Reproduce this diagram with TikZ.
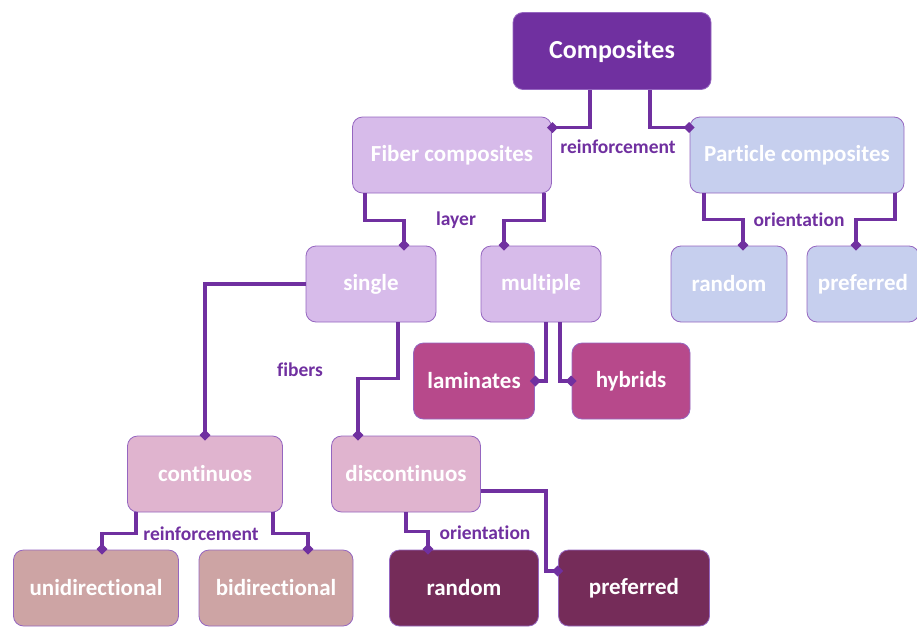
\documentclass[tikz,border=0pt]{standalone}
\usepackage{fontspec}
\setmainfont{Carlito}[Ligatures=NoCommon]
\usetikzlibrary{arrows.meta}
\usepackage{xcolor}
\definecolor{deeppurple}{HTML}{7030A0}
\definecolor{lilac}{HTML}{D7BBEA}
\definecolor{periwinkle}{HTML}{C6CFEE}
\definecolor{magentabox}{HTML}{B7498B}
\definecolor{pinkbox}{HTML}{E0B4CF}
\definecolor{rosebox}{HTML}{CDA4A4}
\definecolor{plumbox}{HTML}{752C59}
\definecolor{edgeline}{HTML}{9566C0}

\begin{document}
\begin{tikzpicture}[x=1pt,y=-1pt,
  box/.style={draw=edgeline,line width=0.8pt,rounded corners=10pt,text=white,inner sep=0pt,
    font=\fontsize{23}{27}\selectfont\bfseries,minimum height=76pt},
  link/.style={draw=deeppurple,line width=3.4pt,-{Diamond[length=11pt,width=11pt]},shorten >=-5pt},
  lbl/.style={text=deeppurple,font=\fontsize{19.5}{23}\selectfont\bfseries,inner sep=0pt}]
\useasboundingbox (0,0) rectangle (917,626);
% boxes
\node[box,fill=deeppurple,minimum width=198pt,minimum height=77pt,font=\fontsize{26}{30}\selectfont\bfseries] (comp) at (612,51) {Composites};
\node[box,fill=lilac,minimum width=199pt] (fiber) at (452,155) {Fiber composites};
\node[box,fill=periwinkle,minimum width=214pt] (particle) at (797,155) {Particle composites};
\node[box,fill=lilac,minimum width=130pt] (single) at (371,284) {single};
\node[box,fill=lilac,minimum width=120pt] (multiple) at (541,284) {multiple};
\node[box,fill=periwinkle,minimum width=116pt] (prand) at (729,284) {random};
\node[box,fill=periwinkle,minimum width=112pt] (ppref) at (863,284) {preferred};
\node[box,fill=magentabox,minimum width=121pt] (lam) at (474,381) {laminates};
\node[box,fill=magentabox,minimum width=118pt] (hyb) at (631,381) {hybrids};
\node[box,fill=pinkbox,minimum width=155pt] (cont) at (205,474) {continuos};
\node[box,fill=pinkbox,minimum width=149pt] (discont) at (406,474) {discontinuos};
\node[box,fill=rosebox,minimum width=165pt] (uni) at (96,588) {unidirectional};
\node[box,fill=rosebox,minimum width=154pt] (bi) at (276,588) {bidirectional};
\node[box,fill=plumbox,minimum width=149pt] (drand) at (464,588) {random};
\node[box,fill=plumbox,minimum width=151pt] (dpref) at (634,588) {preferred};
% connectors
\draw[link] ([xshift=-22pt]comp.south) |- ([yshift=-11pt]fiber.north east);
\draw[link] ([xshift=38pt]comp.south) |- ([yshift=-11pt]particle.north west);
\draw[link] ([xshift=-87pt]fiber.south) -- ++(0,27) -| (single.north -| 404,0);
\draw[link] ([xshift=92pt]fiber.south) -- ++(0,27) -| (multiple.north -| 504,0);
\draw[link] ([xshift=-93pt]particle.south) -- ++(0,26) -| (prand.north -| 743,0);
\draw[link] ([xshift=98pt]particle.south) -- ++(0,26) -| (ppref.north -| 856,0);
\draw[link] (single.west) -| (cont.north);
\draw[link] ([xshift=27pt]single.south) -- ++(0,56) -| (discont.north -| 358,0);
\draw[link] ([xshift=5pt]multiple.south) |- (lam.east);
\draw[link] ([xshift=19pt]multiple.south) |- (hyb.west);
\draw[link] ([xshift=-69pt]cont.south) -- ++(0,21) -| (uni.north -| 102,0);
\draw[link] ([xshift=68pt]cont.south) -- ++(0,21) -| (bi.north -| 308,0);
\draw[link] (discont.south) -- ++(0,19) -| (drand.north -| 428,0);
\draw[link] ([yshift=-17pt]discont.east) -- ++(65,0) |- ([yshift=17pt]dpref.west);
% labels
\node[lbl] (l1) at (618,147) {reinforcement};
\node[lbl] (l2) at (456,220) {layer};
\node[lbl] (l3) at (799,220) {orientation};
\node[lbl] (l4) at (300,370) {fibers};
\node[lbl] (l5) at (201,534) {reinforcement};
\node[lbl] (l6) at (485,533) {orientation};
\end{tikzpicture}
\end{document}
